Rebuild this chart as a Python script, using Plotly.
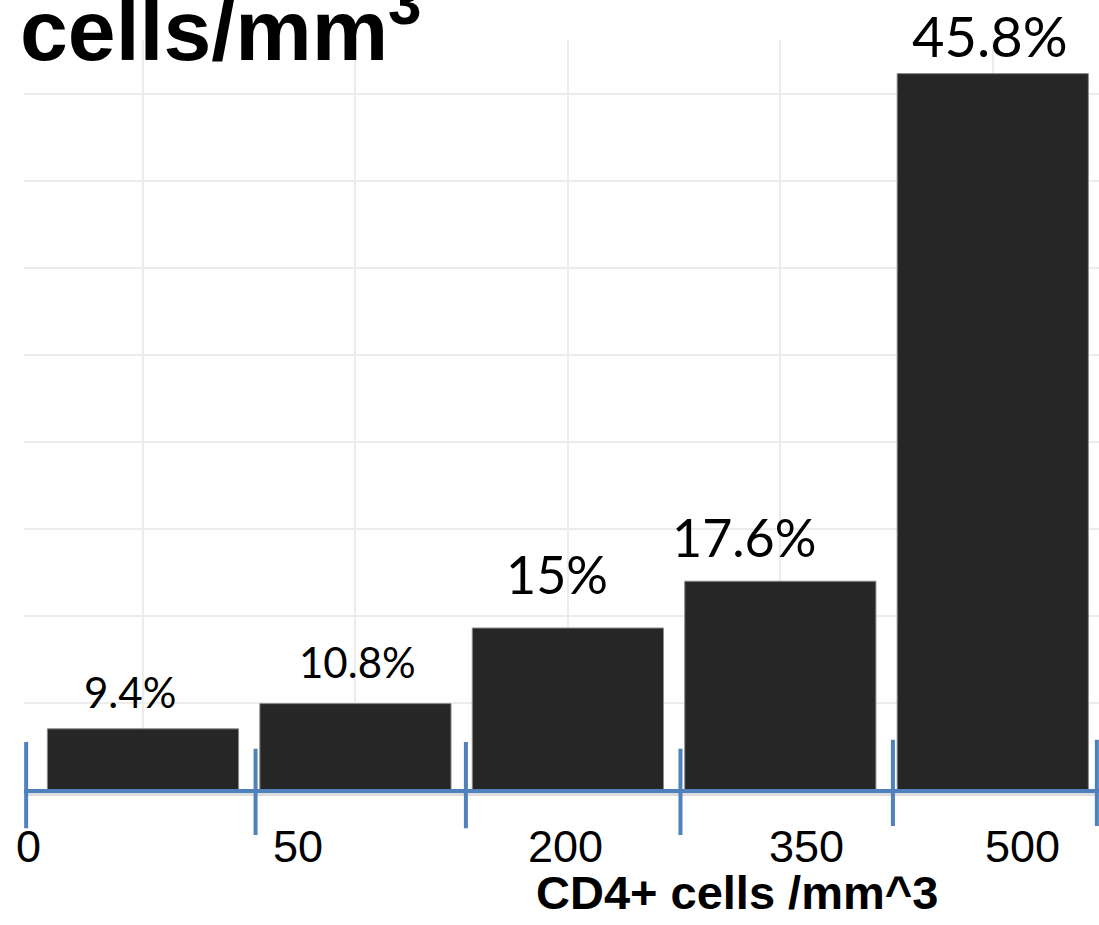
import plotly.graph_objects as go

# CD4+ count bins (lower bound of each bin) and share of patients per bin
bin_labels = ["0", "50", "200", "350", "500"]
categories = ["0-49", "50-199", "200-349", "350-499", "500+"]
percent = [9.4, 10.8, 15.0, 17.6, 45.8]

BLUE = "#4f81bd"
BAR = "#262626"

# plot area geometry (pixels)
W, H = 1099, 925
M_L, M_R, M_T, M_B = 24, 0, 40, 135
plot_h = H - M_T - M_B
y0 = 6.0                 # lower end of the value axis
px_per_unit = 18.0
y1 = y0 + plot_h / px_per_unit
x_lo, x_hi = -0.56, len(categories) - 0.5

fig = go.Figure()
fig.add_trace(go.Bar(
    x=list(range(len(categories))),
    y=percent,
    width=0.9,
    marker=dict(color=BAR, line=dict(color="#8c8c8c", width=1)),
    hoverinfo="skip",
    showlegend=False,
))

# value labels above the bars
label_sizes = [42, 42, 52, 52, 56]
label_dx = [-13, 2, -11, -36, -3]
label_dy = [10, 15, 21, 11, 3]
for i, v in enumerate(percent):
    fig.add_annotation(
        x=i, y=v, xref="x", yref="y",
        text=f"{v:g}%", showarrow=False,
        xanchor="center", yanchor="bottom",
        xshift=label_dx[i], yshift=label_dy[i],
        font=dict(family="Lato", size=label_sizes[i], color="#000000"),
    )

# bin-boundary labels under the axis
tick_x = [-0.541, 0.730, 1.987, 3.122, 4.139]
for tx, t in zip(tick_x, bin_labels):
    fig.add_annotation(
        x=tx, y=-0.0747, xref="x", yref="paper",
        text=t, showarrow=False, xanchor="center", yanchor="middle",
        font=dict(family="Liberation Sans", size=45, color="#000000"),
    )

# axis title
fig.add_annotation(
    x=2.797, y=-0.137, xref="x", yref="paper",
    text="<b>CD4+ cells /mm^3</b>", showarrow=False,
    xanchor="center", yanchor="middle",
    font=dict(family="Liberation Sans", size=47, color="#000000"),
)

# heading fragment at the top-left
fig.add_annotation(
    x=-0.0056, y=0.947, xref="paper", yref="paper",
    text="<b>cells/mm<sup>3</sup></b>", showarrow=False,
    xanchor="left", yanchor="bottom",
    font=dict(family="Liberation Sans", size=86, color="#000000"),
)

# blue baseline with boundary ticks
shapes = [
    dict(type="line", xref="paper", yref="paper", x0=0, x1=1,
         y0=-0.006, y1=-0.006, line=dict(color="#dcdcdc", width=3), layer="above"),
    dict(type="line", xref="paper", yref="paper", x0=0, x1=1,
         y0=-0.0013, y1=-0.0013, line=dict(color=BLUE, width=4), layer="above"),
]
edges = [x_lo, 0.53, 1.52, 2.53, 3.53, x_hi]
tick_top = [0.064, 0.055, 0.064, 0.055, 0.067, 0.067]
for e, tt in zip(edges, tick_top):
    xp = (e - x_lo) / (x_hi - x_lo)
    xp = min(max(xp, 0.002), 0.998)
    shapes.append(dict(type="line", xref="paper", yref="paper",
                       x0=xp, x1=xp, y0=tt - 0.115, y1=tt,
                       line=dict(color=BLUE, width=4), layer="above"))
fig.update_layout(shapes=shapes)

fig.update_layout(
    width=W, height=H,
    margin=dict(l=M_L, r=M_R, t=M_T, b=M_B),
    paper_bgcolor="#ffffff", plot_bgcolor="#ffffff",
    bargap=0.1,
    xaxis=dict(
        type="linear", range=[x_lo, x_hi],
        tickvals=list(range(len(categories))), showticklabels=False,
        showgrid=True, gridcolor="#ececec", gridwidth=1.5,
        zeroline=False, showline=False, ticks="",
    ),
    yaxis=dict(
        range=[y0, y1], tick0=y0, dtick=87 / px_per_unit,
        showticklabels=False, showgrid=True, gridcolor="#ececec", gridwidth=2,
        zeroline=False, showline=False, ticks="",
    ),
)

fig.write_html("out.html")
